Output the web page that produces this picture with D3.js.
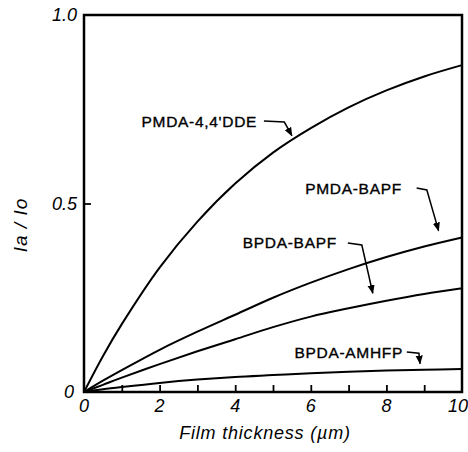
<!DOCTYPE html>
<html><head><meta charset="utf-8">
<script src="https://cdn.jsdelivr.net/npm/d3@7"></script>
<style>
body{margin:0;background:#fff;}
svg{display:block;}
text{font-family:"Liberation Sans",Arial,sans-serif;fill:#000;}
</style></head>
<body>
<svg id="chart" width="468" height="452"></svg>
<script>
// Data (film thickness in µm vs Ia/Io)
const thickness = [0, 0.5, 1, 2, 3, 4, 5, 6, 7, 8, 9, 10];
const pmdaDDE   = [0, 0.095, 0.18, 0.33, 0.452, 0.553, 0.635, 0.70, 0.755, 0.80, 0.837, 0.867];
const pmdaBAPF  = [0, 0.03, 0.058, 0.112, 0.16, 0.205, 0.25, 0.29, 0.326, 0.358, 0.386, 0.41];
const bpdaBAPF  = [0, 0.019, 0.038, 0.074, 0.108, 0.14, 0.172, 0.2, 0.222, 0.242, 0.26, 0.275];
const bpdaAMHFP = [0, 0.007, 0.013, 0.024, 0.033, 0.04, 0.045, 0.05, 0.054, 0.057, 0.059, 0.061];
const seriesNames = ["PMDA-4,4'DDE", "PMDA-BAPF", "BPDA-BAPF", "BPDA-AMHFP"];
const xTickValues = [0, 2, 4, 6, 8, 10];
const xTickLabels = ["0", "2", "4", "6", "8", "10"];
const xMinorTicks = [1, 2, 3, 4, 5, 6, 7, 8, 9];
const yTickValues = [0, 0.5, 1.0];
const yTickLabels = ["0", "0.5", "1.0"];
// label anchors (data units): text end point + leader path
const labelPos = [
  {x: 4.58, y: 0.719, leader: [[4.76,0.719],[5.30,0.716],[5.50,0.680]]},
  {x: 8.41, y: 0.541, leader: [[8.80,0.541],[9.07,0.536],[9.38,0.428]]},
  {x: 6.69, y: 0.398, leader: [[6.98,0.395],[7.35,0.390],[7.64,0.262]]},
  {x: 8.44, y: 0.106, leader: [[8.54,0.106],[8.86,0.103],[8.89,0.075]]}
];

const svg = d3.select("#chart");
const L = 84, R = 462, T = 15, B = 392;
const x = d3.scaleLinear().domain([0, 10]).range([L, R]);
const y = d3.scaleLinear().domain([0, 1]).range([B, T]);

svg.append("defs").append("marker")
  .attr("id","arr").attr("viewBox","0 0 10 10").attr("refX",9).attr("refY",5)
  .attr("markerWidth",6).attr("markerHeight",6).attr("orient","auto-start-reverse")
  .append("path").attr("d","M0,1 L10,5 L0,9 Z").attr("fill","#000");

// frame
svg.append("rect").attr("x",L).attr("y",T).attr("width",R-L).attr("height",B-T)
  .attr("fill","none").attr("stroke","#000").attr("stroke-width",2.5);

// x axis ticks (inward)
const xAxis = d3.axisBottom(x).tickValues(xMinorTicks).tickSize(-7).tickFormat("");
const gx = svg.append("g").attr("transform",`translate(0,${B})`).call(xAxis);
gx.select(".domain").remove();
gx.selectAll(".tick line").attr("stroke","#000").attr("stroke-width",1.8);

svg.append("g").selectAll("text").data(xTickValues).join("text")
  .attr("x", d => d === 10 ? x(d) - 4 : x(d)).attr("y", B + 20)
  .attr("text-anchor","middle").attr("font-size",18)
  .attr("font-style","italic")
  .text((d,i) => xTickLabels[i]);

// y axis tick at 0.5 inward
const yAxis = d3.axisLeft(y).tickValues([0.5]).tickSize(-7).tickFormat("");
const gy = svg.append("g").attr("transform",`translate(${L},0)`).call(yAxis);
gy.select(".domain").remove();
gy.selectAll(".tick line").attr("stroke","#000").attr("stroke-width",1.8);

svg.append("g").selectAll("text").data(yTickValues).join("text")
  .attr("x", d => d === 0 ? L - 10 : L - 7)
  .attr("y", d => y(d))
  .attr("dy","0.36em")
  .attr("text-anchor","end").attr("font-size",18).attr("font-style","italic")
  .text((d,i) => yTickLabels[i]);

// axis titles
svg.append("text").attr("x", 265).attr("y", 439).attr("text-anchor","middle")
  .attr("font-size",18).attr("font-style","italic").attr("letter-spacing","0.8px")
  .text("Film thickness (\u00b5m)");
svg.append("text").attr("transform","translate(27,225) rotate(-90)")
  .attr("text-anchor","middle").attr("font-size",19).attr("font-style","italic")
  .attr("font-family","Liberation Serif, serif").attr("letter-spacing","1px")
  .text("Ia / Io");

// curves
const allSeries = [pmdaDDE, pmdaBAPF, bpdaBAPF, bpdaAMHFP];
const line = d3.line().x((d,i) => x(thickness[i])).y(d => y(d)).curve(d3.curveCatmullRom.alpha(0.5));
svg.append("g").selectAll("path").data(allSeries).join("path")
  .attr("d", line).attr("fill","none").attr("stroke","#000").attr("stroke-width",2);

// labels and leaders
const lg = svg.append("g");
lg.selectAll("text").data(labelPos).join("text")
  .attr("x", d => x(d.x)).attr("y", d => y(d.y)).attr("dy","0.36em")
  .attr("text-anchor","end").attr("font-size",15.5).attr("letter-spacing","0.7px")
  .attr("stroke","#000").attr("stroke-width",0.35)
  .text((d,i) => seriesNames[i]);
const lline = d3.line().x(p => x(p[0])).y(p => y(p[1]));
lg.selectAll("path").data(labelPos).join("path")
  .attr("d", d => lline(d.leader)).attr("fill","none").attr("stroke","#000")
  .attr("stroke-width",1.5).attr("marker-end","url(#arr)");
</script>
</body></html>
